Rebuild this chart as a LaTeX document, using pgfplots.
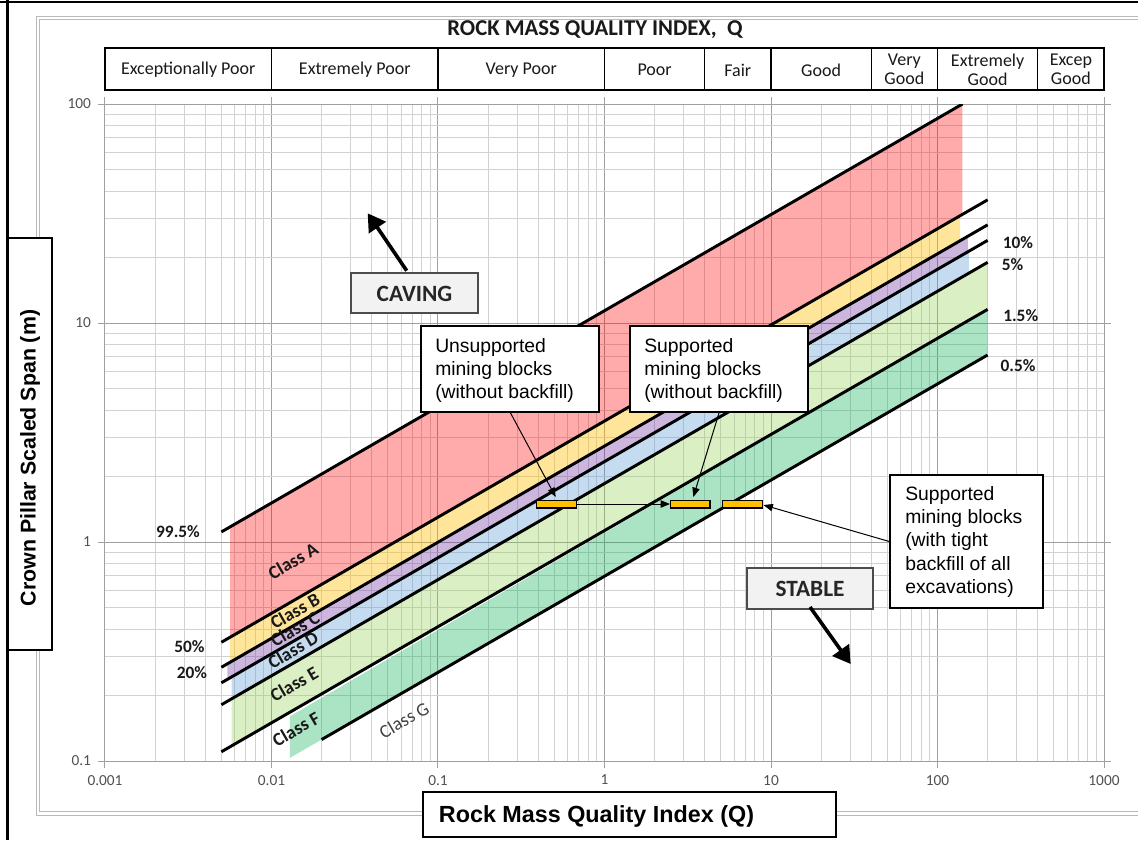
\documentclass[border=0pt]{standalone}
\usepackage{pgfplots}
\pgfplotsset{compat=1.18}
\usepackage{fontspec}
\setmainfont{Carlito}
\newfontfamily\arial{Liberation Sans}
\usetikzlibrary{arrows.meta}
\definecolor{gmaj}{RGB}{160,160,160}
\definecolor{gmin}{RGB}{210,210,210}
\definecolor{tickgray}{RGB}{80,80,80}
\definecolor{barorange}{RGB}{255,192,0}
\definecolor{cA}{RGB}{255,0,0}
\definecolor{cB}{RGB}{255,192,0}
\definecolor{cC}{RGB}{112,48,160}
\definecolor{cD}{RGB}{91,155,213}
\definecolor{cE}{RGB}{146,208,80}
\definecolor{cF}{RGB}{0,176,80}
\newcommand\fs[2]{\fontsize{#1}{#2}\selectfont}

\begin{document}
\begin{tikzpicture}
\begin{scope}[x=0.75pt,y=-0.75pt]
\fill[white] (0,0) rectangle (1138,840);
\useasboundingbox (0,0) rectangle (1138,840);
\draw[gray!55, line width=0.75pt] (36,16) -- (1138,16) (39,19) -- (1138,19)
  (36,16) -- (36,815) -- (1138,815) (39,19) -- (39,811) -- (1138,811);
\draw[black, line width=1.8pt] (7.5,0) -- (7.5,840) (0,2) -- (1138,2);
\end{scope}

\begin{axis}[
  at={(78.75pt,-570.75pt)}, anchor=south west,
  scale only axis, width=749.25pt, height=492.75pt,
  xmode=log, ymode=log,
  xmin=0.001, xmax=1000, ymin=0.1, ymax=100,
  xtick={0.001,0.01,0.1,1,10,100,1000},
  xticklabels={0.001,0.01,0.1,1,10,100,1000},
  ytick={0.1,1,10,100},
  yticklabels={0.1,1,10,100},
  minor xtick={0.002,0.003,0.004,0.005,0.006,0.007,0.008,0.009,0.02,0.03,0.04,0.05,0.06,0.07,0.08,0.09,0.2,0.3,0.4,0.5,0.6,0.7,0.8,0.9,2,3,4,5,6,7,8,9,20,30,40,50,60,70,80,90,200,300,400,500,600,700,800,900},
  minor ytick={0.2,0.3,0.4,0.5,0.6,0.7,0.8,0.9,2,3,4,5,6,7,8,9,20,30,40,50,60,70,80,90},
  grid=both,
  major grid style={draw=gmaj, line width=0.75pt},
  minor grid style={draw=gmin, line width=0.75pt},
  axis line style={draw=gmaj, line width=0.75pt},
  tick align=outside,
  major tick length=5pt, minor tick length=0pt,
  every tick/.style={draw=gmaj, line width=0.75pt},
  ticklabel style={font=\fs{11.5}{13}, text=tickgray},
  xticklabel style={yshift=-2pt},
  yticklabel style={xshift=-2pt},
  axis on top=false,
]
% class fills
\addplot[fill=cA, fill opacity=0.33, draw=none] coordinates {(0.005636,1.172) (141.25,100) (141.25,31.35) (0.005636,0.3674)} -- cycle;
\addplot[fill=cB, fill opacity=0.40, draw=none] coordinates {(0.005636,0.3674) (136.5,30.88) (136.5,23.74) (0.005636,0.2823)} -- cycle;
\addplot[fill=cC, fill opacity=0.35, draw=none] coordinates {(0.005433,0.2779) (152.4,24.91) (152.4,21.16) (0.005433,0.2360)} -- cycle;
\addplot[fill=cD, fill opacity=0.35, draw=none] coordinates {(0.005768,0.2422) (154.5,21.29) (154.5,16.91) (0.005768,0.1924)} -- cycle;
\addplot[fill=cE, fill opacity=0.33, draw=none] coordinates {(0.005768,0.1924) (200,18.93) (200,11.54) (0.005768,0.1173)} -- cycle;
\addplot[fill=cF, fill opacity=0.33, draw=none] coordinates {(0.01291,0.1600) (200,11.54) (200,7.145) (0.01291,0.1034)} -- cycle;
% probability lines
\addplot[black, line width=2.2pt] coordinates {(0.005,1.112) (141.25,100)};
\addplot[black, line width=2.2pt] coordinates {(0.005,0.3485) (200,36.52)};
\addplot[black, line width=2.2pt] coordinates {(0.005,0.2679) (200,28.07)};
\addplot[black, line width=2.2pt] coordinates {(0.005,0.2275) (200,23.84)};
\addplot[black, line width=2.2pt] coordinates {(0.005,0.1807) (200,18.93)};
\addplot[black, line width=2.2pt] coordinates {(0.005,0.1102) (200,11.54)};
\addplot[black, line width=2.2pt] coordinates {(0.02,0.1253) (200,7.145)};
% mining blocks
\addplot[fill=barorange, draw=black, line width=0.8pt] coordinates {(0.392,1.43) (0.675,1.43) (0.675,1.555) (0.392,1.555)} -- cycle;
\addplot[fill=barorange, draw=black, line width=0.8pt] coordinates {(2.50,1.43) (4.30,1.43) (4.30,1.555) (2.50,1.555)} -- cycle;
\addplot[fill=barorange, draw=black, line width=0.8pt] coordinates {(5.13,1.43) (8.91,1.43) (8.91,1.555) (5.13,1.555)} -- cycle;
\end{axis}

\begin{scope}[x=0.75pt,y=-0.75pt]
% header
\node[font=\fs{17}{20}\bfseries, text=black!90] at (595,30) {ROCK MASS QUALITY INDEX,\ \ Q};
\draw[line width=1pt] (105,48) rectangle (1104,90);
\foreach \x in {271.5,438,604.5,704.7,771,871.2,937.5,1037.7} \draw[line width=1pt] (\x,48) -- (\x,90);
\begin{scope}[every node/.style={font=\fs{13.5}{14.5}, align=center, text=black!90}]
\node at (188.25,70) {Exceptionally Poor};
\node at (354.75,70) {Extremely Poor};
\node at (521.25,70) {Very Poor};
\node at (654.6,70) {Poor};
\node at (737.85,70) {Fair};
\node at (821.1,70) {Good};
\node at (904.35,69.5) {Very\\Good};
\node at (987.6,69.5) {Extremely\\Good};
\node at (1070.85,69.5) {Excep\\Good};
\end{scope}
% percent labels
\begin{scope}[every node/.style={font=\fs{13}{15}\bfseries, text=black!90}]
\node at (178,531.5) {99.5\%};
\node at (189.5,646.5) {50\%};
\node at (192,673) {20\%};
\node at (1018,242.7) {10\%};
\node at (1012.5,265) {5\%};
\node at (1020.7,316) {1.5\%};
\node at (1018,365.7) {0.5\%};
\end{scope}
% class labels
\begin{scope}[every node/.style={rotate=30, font=\fs{14}{16}\bfseries, text=black!90}]
\node at (293,561) {Class A};
\node at (295,611) {Class B};
\node at (295,629) {Class C};
\node at (293,650) {Class D};
\node at (294,684) {Class E};
\node at (296,729) {Class F};
\end{scope}
\node[rotate=30, font=\fs{14}{16}, text=black!75] at (404,720) {Class G};
% annotation boxes
\draw[fill=white, line width=1.2pt] (421,326) rectangle (599,412);
\node[anchor=north west, align=left, inner sep=0pt, font=\arial\fs{14.5}{17.5}] at (435,338) {Unsupported\\mining blocks\\(without backfill)};
\draw[fill=white, line width=1.2pt] (630,326) rectangle (808,412);
\node[anchor=north west, align=left, inner sep=0pt, font=\arial\fs{14.5}{17.5}] at (644,338) {Supported\\mining blocks\\(without backfill)};
\draw[fill=white, line width=1.2pt] (890,475) rectangle (1043,608);
\node[anchor=north west, align=left, inner sep=0pt, font=\arial\fs{14.5}{17.5}] at (905,486) {Supported\\mining blocks\\(with tight\\backfill of all\\excavations)};
% leader arrows
\begin{scope}[line width=0.75pt, -{Triangle[length=7pt,width=5.5pt]}]
\draw (510,412) -- (555.7,497);
\draw (576,504) -- (670,504);
\draw (719.3,412) -- (693.3,497);
\draw (890,541.7) -- (763.5,505);
\end{scope}
% caving / stable
\draw[fill=black!5, draw=black!70, line width=0.9pt] (351,273) rectangle (478,313);
\node[font=\fs{17.5}{20}\bfseries, text=black!85] at (414.5,293.5) {CAVING};
\draw[line width=2.7pt, -{Triangle[length=13pt,width=15pt]}] (406.7,270.7) -- (367.7,213.3);
\draw[fill=black!5, draw=black!70, line width=0.9pt] (747,568) rectangle (873,609);
\node[font=\fs{17.5}{20}\bfseries, text=black!85] at (810,588.5) {STABLE};
\draw[line width=2.7pt, -{Triangle[length=13pt,width=15pt]}] (810,607) -- (850.7,664);
% axis titles
\draw[fill=white, line width=1.5pt] (7.5,238) rectangle (52,650);
\node[rotate=90, font=\arial\bfseries\fs{16}{19}] at (30,458) {Crown Pillar Scaled Span (m)};
\draw[fill=white, line width=1.5pt] (423,792) rectangle (836,837);
\node[anchor=base, font=\arial\bfseries\fs{17.5}{20}] at (596.5,822.7) {Rock Mass Quality Index (Q)};
\end{scope}
\end{tikzpicture}
\end{document}
